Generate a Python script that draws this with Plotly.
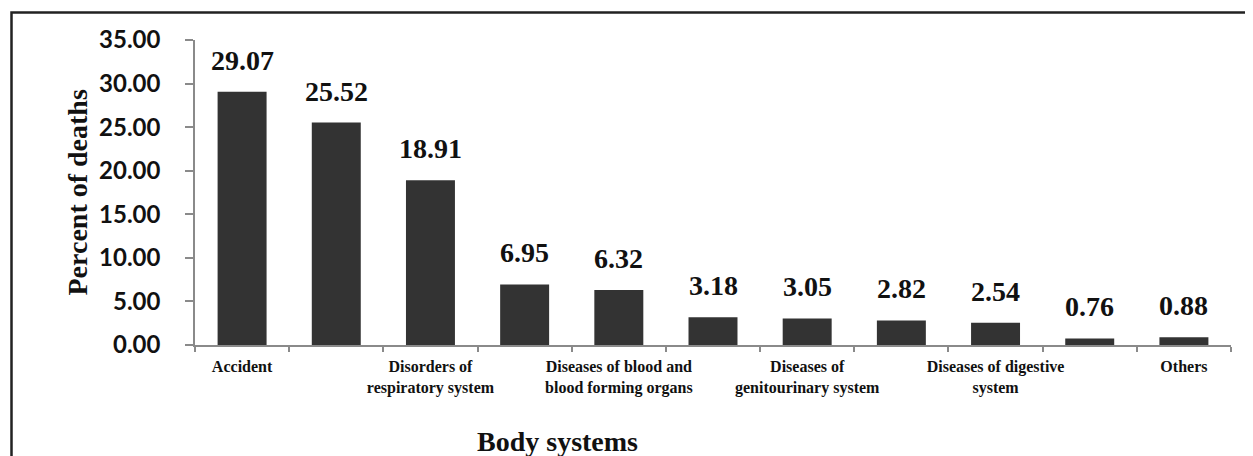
import plotly.graph_objects as go

categories = ["Accident", "", "Disorders of<br>respiratory system", "",
              "Diseases of blood and<br>blood forming organs", "",
              "Diseases of<br>genitourinary system", "",
              "Diseases of digestive<br>system", "", "Others"]
values = [29.07, 25.52, 18.91, 6.95, 6.32, 3.18, 3.05, 2.82, 2.54, 0.76, 0.88]
y_ticks = [0, 5, 10, 15, 20, 25, 30, 35]

# page body has an 8px default margin; figure is sized to fit the 1253x456 window
OFF = 8
W, H = 1253 - OFF, 456 - OFF
L, R, T, B = 195 - OFF, 22, 40 - OFF, 111
pw, ph = W - L - R, H - T - B

xs = list(range(len(values)))
serif = "Liberation Serif, Times New Roman, serif"

fig = go.Figure()
fig.add_trace(go.Bar(x=xs, y=values, marker=dict(color="#333333", line=dict(width=0)),
                     width=0.52, hoverinfo="skip"))

for x, v in zip(xs, values):
    fig.add_annotation(x=x, y=v, text=f"{v:.2f}", showarrow=False, xanchor="center",
                       yanchor="bottom", yshift=14,
                       font=dict(family=serif, size=28, color="#111111", weight="bold"))

label_idx = [i for i, c in enumerate(categories) if c]
fig.update_xaxes(range=[-0.5, len(values) - 0.5], tickmode="array",
                 tickvals=label_idx, ticktext=[categories[i] for i in label_idx],
                 ticks="", showline=True, linecolor="#8a8a8a", linewidth=1.5,
                 showgrid=False, zeroline=False, ticklabelstandoff=6,
                 tickfont=dict(family=serif, size=16, color="#111111", weight="bold"),
                 minor=dict(tickmode="array", tickvals=[i - 0.5 for i in range(len(values) + 1)],
                            ticks="outside", ticklen=5, tickcolor="#8a8a8a", tickwidth=1.5,
                            showgrid=False))
fig.update_yaxes(range=[0, 35], tickmode="array", tickvals=y_ticks,
                 ticktext=[f"{t:.2f}" for t in y_ticks], ticks="outside", ticklen=8,
                 tickcolor="#8a8a8a", tickwidth=1.5, showline=True, linecolor="#8a8a8a",
                 linewidth=1.5, showgrid=False, zeroline=False, ticklabelstandoff=20,
                 tickfont=dict(family="Lato, Carlito, sans-serif", size=24, color="#111111",
                               weight="bold"))

# y-axis title
fig.add_annotation(xref="paper", yref="paper", x=(77 - 195) / pw, y=0.5, text="Percent of deaths",
                   textangle=-90, showarrow=False, xanchor="center", yanchor="middle",
                   font=dict(family=serif, size=28, color="#111111", weight="bold"))
# x-axis title
fig.add_annotation(xref="paper", yref="paper", x=(557 - 195) / pw, y=(345 - 441) / ph,
                   text="Body systems", showarrow=False, xanchor="center", yanchor="middle",
                   font=dict(family=serif, size=28, color="#111111", weight="bold"))

# outer frame (left and top edges visible)
fig.add_shape(type="rect", xref="paper", yref="paper",
              x0=(11.5 - 195) / pw, x1=(1280 - 195) / pw,
              y0=(345 - 480) / ph, y1=(345 - 12.5) / ph,
              line=dict(color="#222222", width=2.5), fillcolor="rgba(0,0,0,0)", layer="below")

fig.update_layout(width=W, height=H, margin=dict(l=L, r=R, t=T, b=B, autoexpand=False),
                  plot_bgcolor="white", paper_bgcolor="white", showlegend=False,
                  bargap=0.48)

fig.write_html("out.html")
